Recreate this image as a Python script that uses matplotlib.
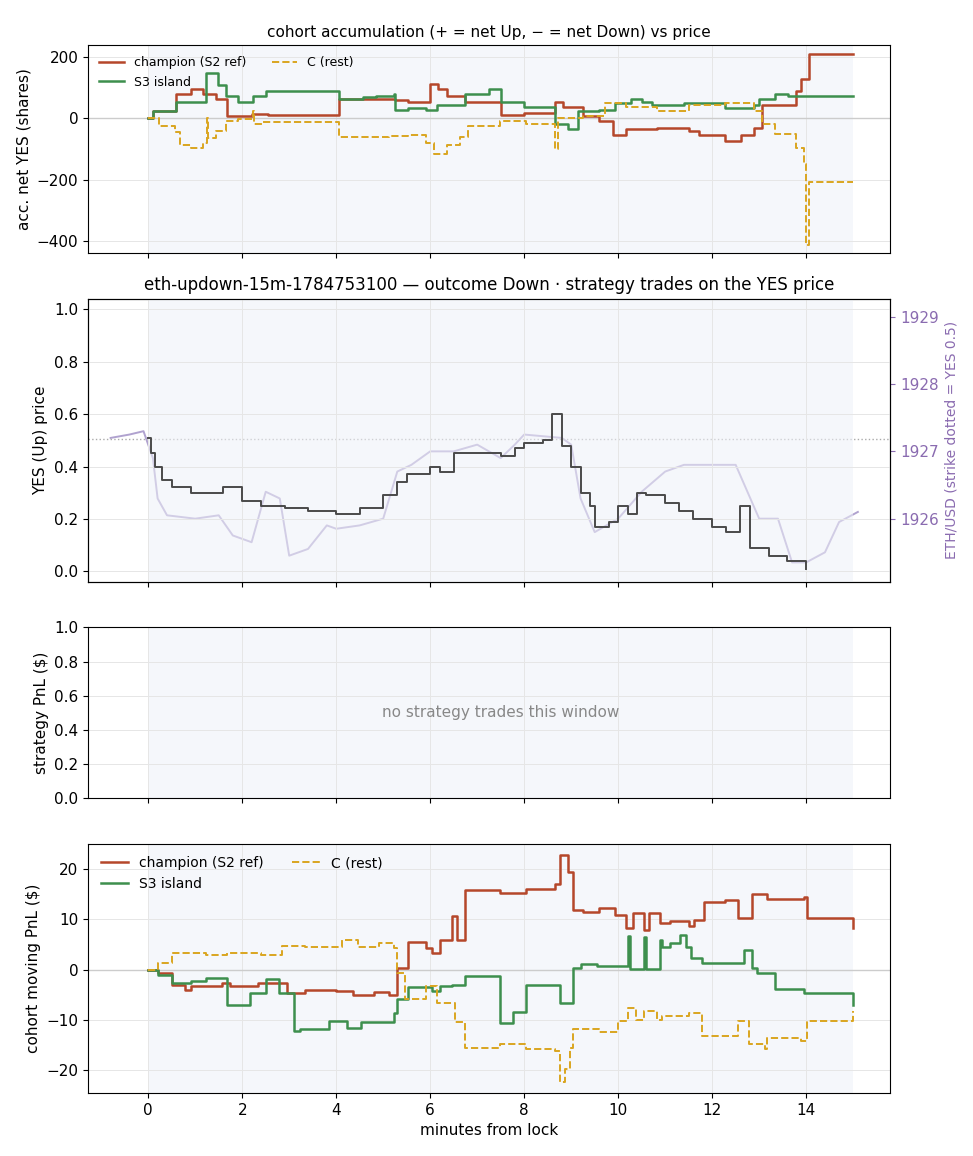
import matplotlib.pyplot as plt
import numpy as np

RED = '#b5472a'
GREEN = '#3d8f4d'
GOLD = '#daa520'
PURPLE = '#8a6bb0'

# panel 1: accumulated net YES shares (step points: minute, value)
acc_champ_t = [0, 0.1, 0.6, 0.9, 1.17, 1.45, 1.67, 2.2, 2.55, 3.46, 4.07, 5.25, 5.53, 6.0, 6.17, 6.36, 6.75, 7.5, 8.0, 8.65, 8.82, 9.26, 9.6, 9.88, 10.16, 10.83, 11.5, 11.72, 12.28, 12.61, 12.89, 13.06, 13.78, 13.89, 14.06, 15.0]
acc_champ_v = [0, 23, 80, 95, 80, 65, 7, 15, 12, 10, 65, 60, 55, 113, 95, 75, 55, 12, 18, 55, 38, 7, -8, -55, -35, -30, -40, -55, -75, -55, -30, 45, 90, 130, 210, 210]
acc_s3_t = [0, 0.1, 0.6, 1.23, 1.24, 1.48, 1.65, 1.9, 2.23, 2.51, 4.07, 4.57, 4.85, 5.22, 5.25, 5.53, 5.92, 6.14, 6.75, 7.25, 7.5, 8.0, 8.65, 8.93, 9.15, 9.6, 9.93, 10.27, 10.5, 10.72, 11.39, 12.28, 12.89, 13.0, 13.34, 13.62, 15.0]
acc_s3_v = [0, 23, 55, 70, 148, 110, 75, 55, 75, 90, 65, 70, 75, 80, 28, 33, 28, 44, 80, 95, 55, 38, -19, -35, 23, 28, 49, 65, 54, 44, 49, 33, 44, 65, 80, 72, 72]
acc_c_t = [0, 0.22, 0.56, 0.67, 0.9, 1.17, 1.25, 1.27, 1.45, 1.65, 1.9, 2.23, 2.25, 2.45, 3.0, 4.07, 5.13, 5.53, 5.92, 6.09, 6.36, 6.64, 6.81, 7.48, 8.03, 8.65, 8.71, 9.26, 9.71, 10.16, 10.83, 11.5, 12.28, 12.89, 13.06, 13.34, 13.78, 13.95, 14.0, 14.06, 15.0]
acc_c_v = [0, -24, -45, -86, -95, -81, 0, -65, -40, -8, -3, 25, -19, -13, -13, -62, -57, -55, -81, -117, -86, -60, -24, -8, -19, -100, 2, 7, 49, 38, 23, 44, 49, 23, -19, -50, -97, -148, -413, -209, -209]

# panel 2: YES price and ETH/USD
yes_t = [0, 0.05, 0.15, 0.3, 0.5, 0.9, 1.6, 2.0, 2.4, 2.9, 3.4, 4.0, 4.5, 5.0, 5.3, 5.5, 6.0, 6.2, 6.5, 7.0, 7.5, 7.8, 8.0, 8.4, 8.6, 8.8, 9.0, 9.2, 9.4, 9.5, 9.8, 10.0, 10.2, 10.4, 10.6, 11.0, 11.3, 11.6, 12.0, 12.3, 12.6, 12.8, 13.2, 13.6, 14.0]
yes_v = [0.51, 0.45, 0.40, 0.35, 0.32, 0.30, 0.32, 0.27, 0.25, 0.24, 0.23, 0.22, 0.24, 0.29, 0.34, 0.37, 0.40, 0.38, 0.45, 0.45, 0.44, 0.47, 0.49, 0.50, 0.60, 0.48, 0.40, 0.30, 0.25, 0.17, 0.19, 0.25, 0.22, 0.30, 0.29, 0.26, 0.23, 0.20, 0.17, 0.15, 0.25, 0.09, 0.06, 0.04, 0.01]
eth_t = [-0.8, -0.4, -0.1, 0.1, 0.2, 0.4, 1.0, 1.5, 1.8, 2.2, 2.5, 2.8, 3.0, 3.4, 3.8, 4.0, 4.5, 5.0, 5.3, 5.6, 6.0, 6.5, 7.0, 7.5, 7.8, 8.0, 8.8, 9.0, 9.2, 9.5, 10.0, 10.5, 11.0, 11.4, 11.8, 12.5, 13.0, 13.4, 13.7, 14.0, 14.4, 14.7, 15.1]
eth_v = [1927.2, 1927.25, 1927.3, 1926.9, 1926.3, 1926.05, 1926.0, 1926.05, 1925.75, 1925.65, 1926.4, 1926.3, 1925.45, 1925.55, 1925.9, 1925.85, 1925.9, 1926.0, 1926.7, 1926.8, 1927.0, 1927.0, 1927.1, 1926.9, 1927.1, 1927.25, 1927.2, 1927.1, 1926.3, 1925.8, 1926.0, 1926.4, 1926.7, 1926.8, 1926.8, 1926.8, 1926.0, 1926.0, 1925.35, 1925.35, 1925.5, 1925.95, 1926.1]
strike = 1927.18

# panel 4: cohort moving PnL
pnl_champ_t = [0, 0.2, 0.5, 0.78, 0.9, 1.56, 1.73, 2.12, 2.34, 2.79, 2.95, 3.34, 4.0, 4.35, 4.8, 5.13, 5.3, 5.53, 5.92, 6.03, 6.2, 6.47, 6.58, 6.75, 7.48, 8.03, 8.65, 8.76, 8.93, 9.04, 9.26, 9.6, 9.93, 10.16, 10.32, 10.55, 10.66, 10.88, 11.1, 11.5, 11.62, 11.83, 12.28, 12.56, 12.84, 13.17, 13.95, 14.01, 15.0]
pnl_champ_v = [0, -0.7, -3, -4, -3.2, -2.6, -3.3, -3.3, -2.6, -2.6, -4.6, -4.1, -4.3, -5.1, -4.5, -5.1, 0.3, 5.4, 4.3, 3.3, 5.9, 10.7, 5.9, 15.8, 15.3, 16.1, 17.1, 22.7, 19.4, 11.8, 11.5, 12.2, 10.9, 8.2, 11.2, 7.9, 11.2, 9.2, 9.7, 8.6, 9.9, 13.5, 13.8, 10.2, 15.1, 14.1, 14.5, 10.2, 8.2]
pnl_s3_t = [0, 0.2, 0.5, 0.9, 1.23, 1.67, 2.17, 2.51, 2.79, 3.1, 3.23, 3.85, 4.24, 4.52, 5.22, 5.3, 5.53, 6.03, 6.2, 6.47, 6.75, 7.48, 7.76, 8.03, 8.65, 8.76, 9.04, 9.21, 9.54, 10.2, 10.25, 10.55, 10.6, 10.88, 10.94, 11.1, 11.32, 11.44, 11.55, 11.78, 12.28, 12.67, 12.84, 12.95, 13.34, 13.95, 15.0]
pnl_s3_v = [0, -1, -2.6, -2.3, -1.6, -7.1, -4.6, -1.8, -4.7, -12.2, -11.8, -10.2, -11.5, -10.4, -8.6, -5.9, -3.5, -4.3, -3.3, -3.0, -1.2, -10.5, -8.4, -3.0, -3.0, -6.6, 0.3, 1.2, 0.7, 6.6, 0.2, 6.4, 0.2, 5.9, 4.6, 5.3, 6.9, 4.6, 2.3, 1.3, 1.3, 3.9, 0.3, -0.7, -3.9, -4.7, -7.1]
pnl_c_t = [0, 0.2, 0.5, 1.23, 1.67, 2.4, 2.84, 3.34, 4.13, 4.46, 4.91, 5.22, 5.3, 5.47, 5.92, 6.14, 6.53, 6.75, 7.48, 8.03, 8.65, 8.76, 8.87, 8.98, 9.04, 9.6, 9.99, 10.21, 10.38, 10.55, 10.83, 10.94, 11.5, 11.78, 12.56, 12.78, 13.12, 13.17, 13.9, 14.01, 15.0]
pnl_c_v = [0, 1.3, 3.3, 3.0, 3.4, 3.0, 4.7, 4.5, 5.9, 4.6, 5.3, 4.3, -0.7, -5.9, -3.3, -6.6, -10.4, -15.5, -14.8, -15.8, -16.1, -22.4, -19.7, -15.5, -11.8, -12.4, -10.2, -7.6, -9.9, -8.2, -9.9, -9.2, -8.6, -13.2, -10.2, -14.8, -15.8, -13.5, -14.1, -10.2, -8.2]

fig = plt.figure(figsize=(9.73, 11.56), dpi=100)
gs = fig.add_gridspec(4, 1, height_ratios=[207, 282, 170, 248], hspace=0.2,
                      left=0.0905, right=0.915, top=0.961, bottom=0.0545)
ax1 = fig.add_subplot(gs[0])
ax2 = fig.add_subplot(gs[1], sharex=ax1)
ax3 = fig.add_subplot(gs[2], sharex=ax1)
ax4 = fig.add_subplot(gs[3], sharex=ax1)

for ax in (ax1, ax2, ax3, ax4):
    ax.axvspan(0, 15, color='#eef1f8', alpha=0.55, lw=0, zorder=0)
    ax.grid(True, color='#e6e6e6', lw=0.7, zorder=0)
    ax.set_axisbelow(True)

def cohort(ax, tc, vc, ts, vs, tr, vr, fs):
    ax.axhline(0, color='#cccccc', lw=1, zorder=1)
    ax.step(tc, vc, where='post', color=RED, lw=1.8, label='champion (S2 ref)')
    ax.step(ts, vs, where='post', color=GREEN, lw=1.8, label='S3 island')
    ax.step(tr, vr, where='post', color=GOLD, lw=1.4, ls='--', label='C (rest)')
    ax.legend(ncol=2, loc='upper left', frameon=False, fontsize=fs)

cohort(ax1, acc_champ_t, acc_champ_v, acc_s3_t, acc_s3_v, acc_c_t, acc_c_v, 9)
ax1.set_ylim(-440, 240)
ax1.set_yticks([-400, -200, 0, 200])
ax1.set_ylabel('acc. net YES (shares)', fontsize=11)
ax1.set_title('cohort accumulation (+ = net Up, \u2212 = net Down) vs price', fontsize=11)

axr = ax2.twinx()
axr.plot(eth_t, eth_v, color='#b0a2cf', lw=1.4, zorder=1)
axr.axhline(strike, color='#aaaaaa', ls=':', lw=1)
axr.set_ylim(1925.06, 1929.27)
axr.set_yticks([1926, 1927, 1928, 1929])
axr.tick_params(axis='y', colors=PURPLE, labelsize=11)
axr.set_ylabel('ETH/USD (strike dotted = YES 0.5)', color=PURPLE, fontsize=10)
ax2.set_zorder(axr.get_zorder() + 1)
ax2.patch.set_visible(False)
ax2.step(yes_t, yes_v, where='post', color='#4a4a4a', lw=1.4)
ax2.set_ylim(-0.04, 1.04)
ax2.set_ylabel('YES (Up) price', fontsize=11)
ax2.set_title('eth-updown-15m-1784753100 \u2014 outcome Down \u00b7 strategy trades on the YES price', fontsize=12)

ax3.set_ylim(0, 1)
ax3.text(7.5, 0.5, 'no strategy trades this window', ha='center', va='center', color='#888888', fontsize=11)
ax3.set_ylabel('strategy PnL ($)', fontsize=11)

cohort(ax4, pnl_champ_t, pnl_champ_v, pnl_s3_t, pnl_s3_v, pnl_c_t, pnl_c_v, 10)
ax4.set_ylim(-24.5, 25)
ax4.set_yticks([-20, -10, 0, 10, 20])
ax4.set_ylabel('cohort moving PnL ($)', fontsize=11)
ax4.set_xlabel('minutes from lock', fontsize=11)

ax1.set_xlim(-1.28, 15.79)
ax1.set_xticks([0, 2, 4, 6, 8, 10, 12, 14])
for ax in (ax1, ax2, ax3):
    plt.setp(ax.get_xticklabels(), visible=False)
for ax in (ax1, ax2, ax3, ax4):
    ax.tick_params(labelsize=11)

fig.savefig('out.png', dpi=100)
